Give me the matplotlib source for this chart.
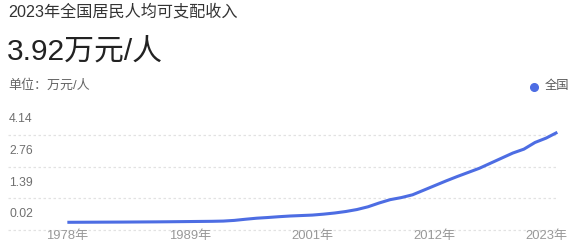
import matplotlib
matplotlib.use("Agg")
import matplotlib.pyplot as plt
from matplotlib.lines import Line2D
from matplotlib.transforms import ScaledTranslation

plt.rcParams['font.family'] = ['Liberation Sans', 'Noto Sans CJK SC', 'DejaVu Sans']

# 全国居民人均可支配收入（万元/人）
years = list(range(1978, 1999)) + list(range(2000, 2024))
income = [0.0171, 0.019, 0.021, 0.023, 0.025, 0.027, 0.030, 0.033, 0.036, 0.040,
          0.045, 0.050, 0.055, 0.060, 0.070, 0.100, 0.150, 0.195, 0.225, 0.260,
          0.290, 0.310, 0.330, 0.370, 0.420, 0.485, 0.570, 0.690, 0.855, 1.000,
          1.090, 1.210, 1.410, 1.610, 1.810, 2.000, 2.180, 2.360, 2.580, 2.800,
          3.020, 3.190, 3.480, 3.670, 3.920]
y_ticks = [0.02, 1.39, 2.76, 4.14]
x_tick_idx = [0, 11, 22, 33, 44]
series_name = "全国"
headline = "3.92万元/人"

W, H = 579, 252
fig = plt.figure(figsize=(W / 100, H / 100), dpi=100)
fig.patch.set_facecolor("white")

# 标题区
fig.text(8 / W, 1 - 12 / H, "2023年全国居民人均可支配收入", fontsize=11.6,
         color="#333333", ha="left", va="center")
fig.text(7 / W, 1 - 52 / H, headline, fontsize=21.5, color="#222222",
         ha="left", va="center")
fig.text(8 / W, 1 - 86 / H, "单位：万元/人", fontsize=9.4, color="#666666",
         ha="left", va="center")

# 图例
line_color = "#4d6de3"
fig.add_artist(Line2D([534 / W], [1 - 86.5 / H], marker="o", markersize=5.5,
                      color=line_color, transform=fig.transFigure))
fig.text(545 / W, 1 - 86.5 / H, series_name, fontsize=8.8, color="#555555",
         ha="left", va="center")

ax = fig.add_axes([8 / W, (H - 228) / H, 550 / W, 110 / H])
ax.set_xlim(-5.33, 44.06)
ax.set_ylim(-0.23, 4.54)
for s in ax.spines.values():
    s.set_visible(False)
ax.set_yticks([])

x = list(range(len(years)))
ax.plot(x, income, color=line_color, lw=2.2, solid_joinstyle="round",
        solid_capstyle="butt", clip_on=False, zorder=3)

# 网格线和纵轴标签
down = ScaledTranslation(0, -7.5 / 100, fig.dpi_scale_trans)
up = ScaledTranslation(0, 8 / 100, fig.dpi_scale_trans)
for v in y_ticks:
    ax.plot([0, 1], [v, v], transform=ax.get_yaxis_transform() + down,
            color="#e2e2e2", lw=0.9, ls=(0, (2, 2)), clip_on=False, zorder=1)
    ax.text(0.002, v, f"{v:.2f}", transform=ax.get_yaxis_transform() + up,
            fontsize=8.8, color="#707070", ha="left", va="center")

ax.set_xticks(x_tick_idx)
ax.set_xticklabels([f"{years[i]}年" for i in x_tick_idx], fontsize=9.4, color="#999999")
ax.tick_params(axis="x", length=0, pad=1.5)
last = ax.get_xticklabels()[-1]
last.set_transform(last.get_transform() + ScaledTranslation(-11 / 100, 0, fig.dpi_scale_trans))

fig.savefig("out.png", dpi=100, facecolor="white")
